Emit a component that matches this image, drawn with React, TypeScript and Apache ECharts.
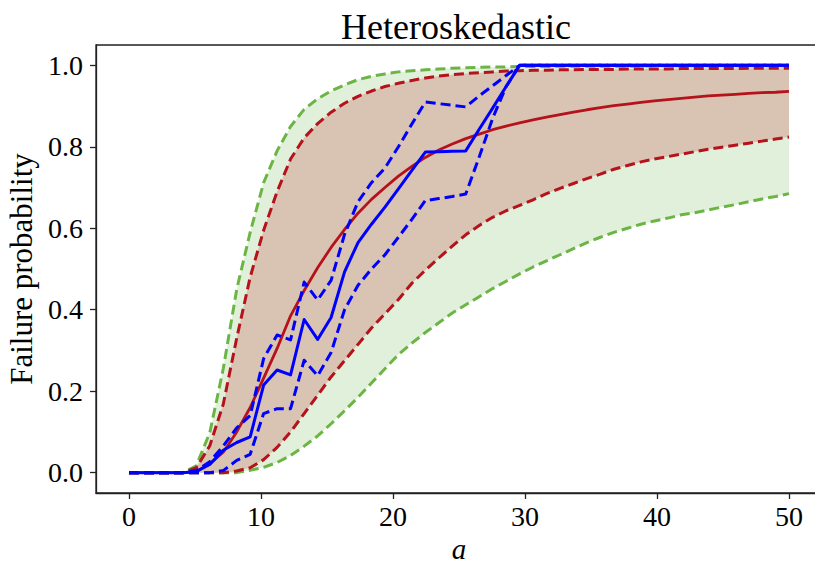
import React, { useEffect, useRef } from "react";
import * as echarts from "echarts";

// x grid (50 points from 0 to 50)
const xs = [
  0, 1.02, 2.04, 3.06, 4.08, 5.1, 6.12, 7.14, 8.16, 9.18,
  10.2, 11.22, 12.24, 13.27, 14.29, 15.31, 16.33, 17.35, 18.37, 19.39,
  20.41, 21.43, 22.45, 23.47, 24.49, 25.51, 26.53, 27.55, 28.57, 29.59,
  30.61, 31.63, 32.65, 33.67, 34.69, 35.71, 36.73, 37.76, 38.78, 39.8,
  40.82, 41.84, 42.86, 43.88, 44.9, 45.92, 46.94, 47.96, 48.98, 50,
];

const redMedian = [
  0, 0, 0, 0, 0, 0.002, 0.022, 0.05, 0.1, 0.16,
  0.232, 0.305, 0.385, 0.447, 0.503, 0.553, 0.597, 0.637, 0.671, 0.7,
  0.728, 0.752, 0.774, 0.792, 0.807, 0.82, 0.831, 0.842, 0.851, 0.859,
  0.866, 0.873, 0.879, 0.885, 0.891, 0.896, 0.901, 0.905, 0.909, 0.913,
  0.916, 0.919, 0.922, 0.925, 0.927, 0.929, 0.931, 0.933, 0.934, 0.936,
];

const redUpper = [
  0, 0, 0, 0, 0, 0.012, 0.066, 0.168, 0.33, 0.48,
  0.595, 0.69, 0.77, 0.822, 0.857, 0.885, 0.907, 0.924, 0.937, 0.948,
  0.956, 0.963, 0.969, 0.974, 0.977, 0.98, 0.982, 0.984, 0.986, 0.987,
  0.988, 0.988, 0.989, 0.989, 0.99, 0.99, 0.99, 0.991, 0.991, 0.991,
  0.991, 0.992, 0.992, 0.992, 0.992, 0.992, 0.993, 0.993, 0.993, 0.993,
];

const redLower = [
  0, 0, 0, 0, 0, 0, 0, 0, 0.004, 0.012,
  0.032, 0.062, 0.1, 0.145, 0.19, 0.235, 0.275, 0.315, 0.355, 0.39,
  0.425, 0.465, 0.497, 0.527, 0.556, 0.584, 0.607, 0.627, 0.643, 0.656,
  0.67, 0.685, 0.698, 0.71, 0.722, 0.733, 0.745, 0.754, 0.763, 0.77,
  0.776, 0.782, 0.788, 0.794, 0.799, 0.804, 0.809, 0.814, 0.819, 0.824,
];

const greenUpper = [
  0, 0, 0, 0, 0, 0.017, 0.098, 0.255, 0.45, 0.59,
  0.712, 0.79, 0.85, 0.892, 0.918, 0.937, 0.952, 0.965, 0.973, 0.979,
  0.984, 0.987, 0.989, 0.991, 0.993, 0.994, 0.995, 0.996, 0.996, 0.997,
  0.997, 0.997, 0.998, 0.998, 0.998, 0.998, 0.998, 0.998, 0.998, 0.999,
  0.999, 0.999, 0.999, 0.999, 0.999, 0.999, 0.999, 0.999, 0.999, 0.999,
];

const greenLower = [
  0, 0, 0, 0, 0, 0, 0, 0, 0, 0.006,
  0.013, 0.025, 0.042, 0.065, 0.09, 0.12, 0.152, 0.185, 0.22, 0.255,
  0.29, 0.318, 0.344, 0.368, 0.392, 0.412, 0.432, 0.452, 0.47, 0.488,
  0.505, 0.52, 0.535, 0.55, 0.565, 0.578, 0.59, 0.6, 0.61, 0.618,
  0.625, 0.633, 0.638, 0.645, 0.652, 0.658, 0.665, 0.672, 0.678, 0.685,
];

const blueMedian = [
  0, 0, 0, 0, 0, 0.003, 0.02, 0.055, 0.074, 0.088,
  0.215, 0.252, 0.24, 0.376, 0.327, 0.381, 0.493, 0.565, 0.61, 0.652,
  0.697, 0.742, 0.787, 0.788, 0.789, 0.79, 0.843, 0.895, 0.948, 1,
  1, 1, 1, 1, 1, 1, 1, 1, 1, 1,
  1, 1, 1, 1, 1, 1, 1, 1, 1, 1,
];

const blueUpper = [
  0, 0, 0, 0, 0, 0.005, 0.027, 0.065, 0.11, 0.14,
  0.28, 0.338, 0.326, 0.468, 0.424, 0.472, 0.585, 0.665, 0.712, 0.748,
  0.8, 0.856, 0.91, 0.906, 0.902, 0.898, 0.925, 0.95, 0.975, 1,
  1, 1, 1, 1, 1, 1, 1, 1, 1, 1,
  1, 1, 1, 1, 1, 1, 1, 1, 1, 1,
];

const blueLower = [
  0, 0, 0, 0, 0, 0, 0, 0.005, 0.03, 0.045,
  0.145, 0.157, 0.157, 0.276, 0.238, 0.295, 0.4, 0.46, 0.5, 0.535,
  0.578, 0.622, 0.668, 0.673, 0.678, 0.684, 0.775, 0.87, 0.948, 1,
  1, 1, 1, 1, 1, 1, 1, 1, 1, 1,
  1, 1, 1, 1, 1, 1, 1, 1, 1, 1,
];

const xTicks = [0, 10, 20, 30, 40, 50];
const yTicks = [0, 0.2, 0.4, 0.6, 0.8, 1.0];

const FONT = "Liberation Serif";
const RED = "#b5121b";
const GREEN = "#6cb545";
const BLUE = "#0000ff";
const GREEN_FILL = "#e1f0db";
const TAN_FILL = "#d9c3b3";

export default function App() {
  const ref = useRef<HTMLDivElement>(null);

  useEffect(() => {
    if (!ref.current) return;
    const chart = echarts.init(ref.current, null, { renderer: "svg" });
    const pairs = (ys: number[]) => xs.map((x, i) => [x, ys[i]]);

    const band = (name: string, upper: number[], lower: number[], fill: string, z: number) => ({
      name,
      type: "custom",
      data: [[xs[0], lower[0]]],
      z,
      silent: true,
      renderItem: (_params: any, api: any) => {
        const pts: number[][] = [];
        for (let i = 0; i < xs.length; i++) pts.push(api.coord([xs[i], upper[i]]));
        for (let i = xs.length - 1; i >= 0; i--) pts.push(api.coord([xs[i], lower[i]]));
        return {
          type: "polygon",
          shape: { points: pts },
          style: { fill, stroke: "none" },
        };
      },
    });

    const line = (name: string, ys: number[], color: string, width: number, dashed: boolean | number[]) => ({
      name,
      type: "line",
      data: pairs(ys),
      showSymbol: false,
      symbol: "none",
      lineStyle: {
        color,
        width,
        type: dashed === false ? "solid" : dashed,
        cap: "butt",
        join: "round",
      },
      z: 5,
    });

    chart.setOption({
      animation: false,
      backgroundColor: "#ffffff",
      title: {
        text: "Heteroskedastic",
        left: 336,
        top: 4,
        textStyle: { fontFamily: FONT, fontSize: 36, fontWeight: "normal", color: "#000" },
      },
      grid: {
        left: 96,
        top: 45,
        width: 726,
        height: 448,
        containLabel: false,
        outerBoundsMode: "none",
        show: true,
        borderColor: "#222",
        borderWidth: 1.3,
        backgroundColor: "transparent",
      },
      xAxis: {
        type: "value",
        min: -2.5,
        max: 52.5,
        name: "a",
        nameLocation: "middle",
        nameGap: 34,
        nameTextStyle: {
          fontFamily: FONT,
          fontSize: 29,
          fontStyle: "italic",
          color: "#000",
        },
        axisLine: { show: true, onZero: false, lineStyle: { color: "#222", width: 1.3 } },
        axisTick: { show: true, length: 6, lineStyle: { color: "#222", width: 1.3 }, customValues: xTicks },
        axisLabel: {
          customValues: xTicks,
          margin: 9,
          fontFamily: FONT,
          fontSize: 28,
          color: "#000",
        },
        splitLine: { show: false },
      },
      yAxis: {
        type: "value",
        min: -0.05,
        max: 1.05,
        name: "Failure probability",
        nameLocation: "middle",
        nameGap: 52,
        nameTextStyle: { fontFamily: FONT, fontSize: 31, color: "#000" },
        axisLine: { show: true, onZero: false, lineStyle: { color: "#222", width: 1.3 } },
        axisTick: { show: true, length: 6, lineStyle: { color: "#222", width: 1.3 }, customValues: yTicks },
        axisLabel: {
          customValues: yTicks,
          margin: 13,
          fontFamily: FONT,
          fontSize: 28,
          color: "#000",
          formatter: (v: number) => v.toFixed(1),
        },
        splitLine: { show: false },
      },
      series: [
        band("greenBand", greenUpper, greenLower, GREEN_FILL, 1),
        band("redBand", redUpper, redLower, TAN_FILL, 2),
        line("greenLower", greenLower, GREEN, 3, [10, 5]),
        line("greenUpper", greenUpper, GREEN, 3, [10, 5]),
        line("redLower", redLower, RED, 3, [10, 5]),
        line("redUpper", redUpper, RED, 3, [10, 5]),
        line("redMedian", redMedian, RED, 2.8, false),
        line("blueLower", blueLower, BLUE, 3, [10, 5]),
        line("blueUpper", blueUpper, BLUE, 3, [10, 5]),
        line("blueMedian", blueMedian, BLUE, 3, false),
      ],
    });

    return () => chart.dispose();
  }, []);

  return (
    <div
      ref={ref}
      style={{ position: "fixed", left: 0, top: 0, width: 815, height: 564, background: "#fff" }}
    />
  );
}
